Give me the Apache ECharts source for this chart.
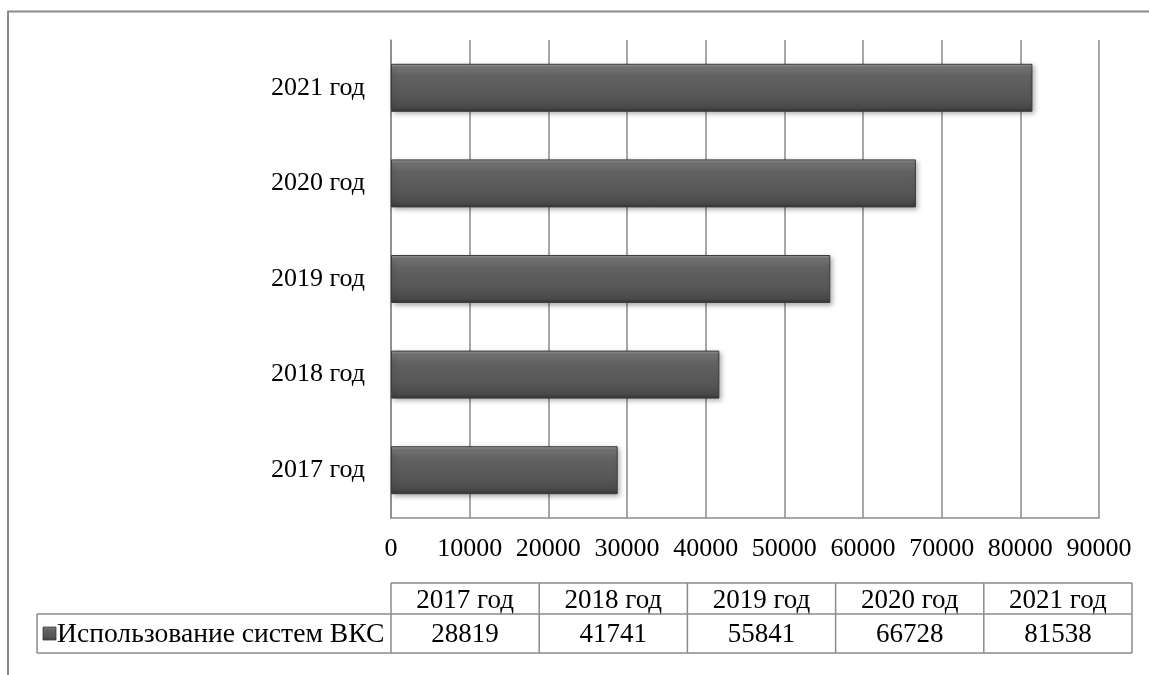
<!DOCTYPE html>
<html>
<head>
<meta charset="utf-8">
<script src="https://cdn.jsdelivr.net/npm/echarts@6/dist/echarts.min.js"></script>
<style>
  html, body { margin: 0; padding: 0; background: #fff; }
  #chart { width: 1149px; height: 675px; }
</style>
</head>
<body>
<div id="chart"></div>
<script>
// Usage of videoconferencing systems (ВКС) by year
const categories = ['2017 год', '2018 год', '2019 год', '2020 год', '2021 год'];
const values = [28819, 41741, 55841, 66728, 81538];
const seriesName = 'Использование систем ВКС';
const axisMax = 90000;
const axisStep = 10000;

const FONT = '"Liberation Serif", "Times New Roman", serif';
const LINE = '#8a8a8a';
const AXIS_FONT = 26;
const TABLE_FONT = 27;
const LEGEND_FONT = 27.6;

// plot area
const plot = { left: 391, right: 50, top: 40, bottom: 157 };

// data table under the chart
const table = { left: 37, colStart: 391, right: 1132, top: 583, mid: 614, bottom: 653 };

const barFill = new echarts.graphic.LinearGradient(0, 0, 0, 1, [
  { offset: 0, color: '#a0a0a0' },
  { offset: 0.07, color: '#767676' },
  { offset: 0.25, color: '#626262' },
  { offset: 0.7, color: '#565656' },
  { offset: 0.92, color: '#484848' },
  { offset: 1, color: '#333333' }
]);

function buildTable() {
  const els = [];
  const n = categories.length;
  const colW = (table.right - table.colStart) / n;
  const line = (x1, y1, x2, y2) => els.push({
    type: 'line', silent: true,
    shape: { x1, y1, x2, y2 },
    style: { stroke: LINE, lineWidth: 1.5 }
  });
  // horizontal rules
  line(table.colStart, table.top, table.right, table.top);
  line(table.left, table.mid, table.right, table.mid);
  line(table.left, table.bottom, table.right, table.bottom);
  // vertical rules
  line(table.left, table.mid, table.left, table.bottom);
  for (let i = 0; i <= n; i++) {
    const x = table.colStart + i * colW;
    line(x, table.top, x, table.bottom);
  }
  // header and value cells
  categories.forEach((c, i) => {
    const cx = table.colStart + (i + 0.5) * colW;
    els.push({
      type: 'text', silent: true,
      style: { text: c, x: cx, y: (table.top + table.mid) / 2 + 2, align: 'center', verticalAlign: 'middle',
               font: TABLE_FONT + 'px ' + FONT, fill: '#000' }
    });
    els.push({
      type: 'text', silent: true,
      style: { text: String(values[i]), x: cx, y: (table.mid + table.bottom) / 2 + 1, align: 'center', verticalAlign: 'middle',
               font: TABLE_FONT + 'px ' + FONT, fill: '#000' }
    });
  });
  // legend key and series name
  const rowMid = (table.mid + table.bottom) / 2;
  els.push({
    type: 'rect', silent: true,
    shape: { x: 43, y: rowMid - 6.5, width: 13, height: 13 },
    style: { fill: barFill, stroke: '#3a3a3a', lineWidth: 0.8 }
  });
  els.push({
    type: 'text', silent: true,
    style: { text: seriesName, x: 57, y: rowMid + 1, align: 'left', verticalAlign: 'middle',
             font: LEGEND_FONT + 'px ' + FONT, fill: '#000' }
  });
  return els;
}

const chart = echarts.init(document.getElementById('chart'), null, { renderer: 'canvas' });

chart.setOption({
  animation: false,
  backgroundColor: '#fff',
  textStyle: { fontFamily: FONT },
  grid: { left: plot.left, right: plot.right, top: plot.top, bottom: plot.bottom, containLabel: false },
  xAxis: {
    type: 'value',
    min: 0, max: axisMax, interval: axisStep,
    axisLine: { show: true, lineStyle: { color: LINE, width: 1.5 } },
    axisTick: { show: false },
    splitLine: { show: true, lineStyle: { color: LINE, width: 1.5 } },
    axisLabel: { color: '#000', fontSize: AXIS_FONT, fontFamily: FONT, margin: 18,
                 formatter: v => String(v) }
  },
  yAxis: {
    type: 'category',
    data: categories,
    axisLine: { show: true, lineStyle: { color: LINE, width: 1.5 } },
    axisTick: { show: false },
    axisLabel: { color: '#000', fontSize: AXIS_FONT, fontFamily: FONT, margin: 26 }
  },
  series: [{
    name: seriesName,
    type: 'bar',
    data: values,
    barWidth: 48,
    itemStyle: {
      color: barFill,
      borderColor: '#3c3c3c',
      borderWidth: 1,
      shadowColor: 'rgba(0,0,0,0.35)',
      shadowBlur: 5,
      shadowOffsetX: 2,
      shadowOffsetY: 2
    }
  }],
  graphic: [
    {
      type: 'rect', silent: true, z: -1,
      shape: { x: 8, y: 11.5, width: 1300, height: 800 },
      style: { fill: 'none', stroke: LINE, lineWidth: 2 }
    }
  ].concat(buildTable())
});
</script>
</body>
</html>
